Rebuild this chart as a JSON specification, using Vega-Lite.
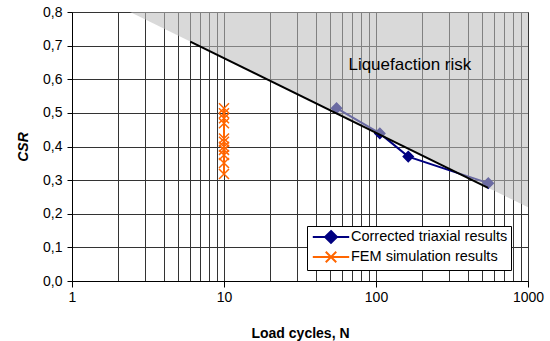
{
  "$schema": "https://vega.github.io/schema/vega-lite/v6.json",
  "width": 456,
  "height": 269,
  "autosize": {"type": "none"},
  "padding": {"left": 72, "top": 12, "right": 22, "bottom": 60},
  "background": "white",
  "config": {
    "view": {"stroke": null},
    "font": "Liberation Sans",
    "legend": {
      "title": null,
      "orient": "none",
      "legendX": 235,
      "legendY": 214,
      "fillColor": "#ffffff",
      "strokeColor": "#000000",
      "padding": 3,
      "symbolSize": 196,
      "symbolOffset": 13,
      "labelOffset": 12,
      "labelFontSize": 14.5,
      "labelFont": "Liberation Sans",
      "labelColor": "#000000",
      "labelLimit": 300,
      "rowPadding": 0,
      "symbolStrokeWidth": 2,
      "symbolOpacity": 1
    }
  },
  "datasets": {
    "obs": [
      {"N": 55, "CSR": 0.514, "series": "Corrected triaxial results"},
      {"N": 106, "CSR": 0.439, "series": "Corrected triaxial results"},
      {"N": 163, "CSR": 0.37, "series": "Corrected triaxial results"},
      {"N": 548, "CSR": 0.291, "series": "Corrected triaxial results"},
      {"N": 10, "CSR": 0.514, "series": "FEM simulation results"},
      {"N": 10, "CSR": 0.499, "series": "FEM simulation results"},
      {"N": 10, "CSR": 0.484, "series": "FEM simulation results"},
      {"N": 10, "CSR": 0.469, "series": "FEM simulation results"},
      {"N": 10, "CSR": 0.424, "series": "FEM simulation results"},
      {"N": 10, "CSR": 0.414, "series": "FEM simulation results"},
      {"N": 10, "CSR": 0.399, "series": "FEM simulation results"},
      {"N": 10, "CSR": 0.39, "series": "FEM simulation results"},
      {"N": 10, "CSR": 0.375, "series": "FEM simulation results"},
      {"N": 10, "CSR": 0.351, "series": "FEM simulation results"},
      {"N": 10, "CSR": 0.318, "series": "FEM simulation results"}
    ],
    "boundary": [{"N": 2.41, "CSR": 0.8}, {"N": 1000, "CSR": 0.219}],
    "trend": [{"N": 6, "CSR": 0.712}, {"N": 546, "CSR": 0.277}],
    "label": [{"N": 167, "CSR": 0.642, "text": "Liquefaction risk"}]
  },
  "encoding": {
    "x": {
      "field": "N",
      "type": "quantitative",
      "scale": {"type": "log", "domain": [1, 1000], "nice": false},
      "axis": {
        "title": "Load cycles, N",
        "values": [1, 2, 3, 4, 5, 6, 7, 8, 9, 10, 20, 30, 40, 50, 60, 70, 80, 90, 100, 200, 300, 400, 500, 600, 700, 800, 900, 1000],
        "labelExpr": "(datum.value == 1 || datum.value == 10 || datum.value == 100 || datum.value == 1000) ? format(datum.value, 'd') : ''",
        "grid": true,
        "gridColor": "#333333",
        "gridOpacity": 1,
        "gridWidth": 1,
        "tickSize": 6,
        "tickColor": "#000000",
        "tickOpacity": {"condition": {"test": "datum.value == 1 || datum.value == 10 || datum.value == 100 || datum.value == 1000", "value": 1}, "value": 0},
        "domainColor": "#000000",
        "labelFontSize": 14,
        "labelPadding": 3,
        "labelColor": "#000000",
        "labelFlush": false,
        "labelOverlap": false,
        "titleFontSize": 14,
        "titleFontWeight": "bold",
        "titleColor": "#000000",
        "titleBaseline": "alphabetic",
        "titleY": 56
      }
    },
    "y": {
      "field": "CSR",
      "type": "quantitative",
      "scale": {"domain": [0, 0.8], "nice": false},
      "axis": {
        "title": "CSR",
        "values": [0, 0.1, 0.2, 0.3, 0.4, 0.5, 0.6, 0.7, 0.8],
        "labelExpr": "replace(format(datum.value, '.1f'), '.', ',')",
        "grid": true,
        "gridColor": "#333333",
        "gridOpacity": 1,
        "gridWidth": 1,
        "tickSize": 5,
        "tickColor": "#000000",
        "domainColor": "#000000",
        "labelFontSize": 14,
        "labelPadding": 5,
        "labelColor": "#000000",
        "labelFlush": false,
        "titleFontSize": 14,
        "titleFontWeight": "bold",
        "titleFontStyle": "italic",
        "titleColor": "#000000",
        "titlePadding": 12
      }
    }
  },
  "layer": [
    {
      "data": {"name": "obs"},
      "mark": {"type": "point", "filled": true, "opacity": 0, "size": 100},
      "encoding": {
        "fill": {"field": "series", "type": "nominal", "scale": {"domain": ["Corrected triaxial results", "FEM simulation results"], "range": ["#000080", "transparent"]}},
        "stroke": {"field": "series", "type": "nominal", "scale": {"domain": ["Corrected triaxial results", "FEM simulation results"], "range": ["#000080", "#FF6600"]}},
        "shape": {"field": "series", "type": "nominal", "scale": {"domain": ["Corrected triaxial results", "FEM simulation results"], "range": ["M-2.6,0H2.6M0,-0.85L0.85,0L0,0.85L-0.85,0Z", "M-2.6,0H2.6M-0.75,-0.75L0.75,0.75M-0.75,0.75L0.75,-0.75"]}}
      }
    },
    {
      "data": {"name": "obs"},
      "mark": {"type": "line", "strokeWidth": 2},
      "encoding": {
        "detail": {"field": "series", "type": "nominal"},
        "color": {"value": "#000080", "condition": {"test": "datum.series === 'FEM simulation results'", "value": "#FF6600"}},
        "order": {"field": "CSR", "sort": "descending"}
      }
    },
    {
      "data": {"name": "obs"},
      "mark": {"type": "point", "filled": true, "opacity": 1, "size": 100, "strokeWidth": 1.5},
      "encoding": {
        "fill": {"condition": {"test": "datum.series === 'FEM simulation results'", "value": "transparent"}, "value": "#000080"},
        "stroke": {"condition": {"test": "datum.series === 'FEM simulation results'", "value": "#FF6600"}, "value": "#000080"},
        "shape": {"condition": {"test": "datum.series === 'FEM simulation results'", "value": "M-1,-1L1,1M-1,1L1,-1"}, "value": "diamond"}
      }
    },
    {
      "data": {"name": "boundary"},
      "mark": {"type": "area", "color": "#bdbdbd", "opacity": 0.57},
      "encoding": {"y2": {"datum": 0.8}}
    },
    {
      "data": {"name": "trend"},
      "mark": {"type": "line", "color": "#000000", "strokeWidth": 2},
      "encoding": {}
    },
    {
      "data": {"name": "label"},
      "mark": {"type": "text", "font": "Liberation Sans", "fontSize": 17, "color": "#000000", "align": "center", "baseline": "middle"},
      "encoding": {"text": {"field": "text", "type": "nominal"}}
    }
  ]
}
